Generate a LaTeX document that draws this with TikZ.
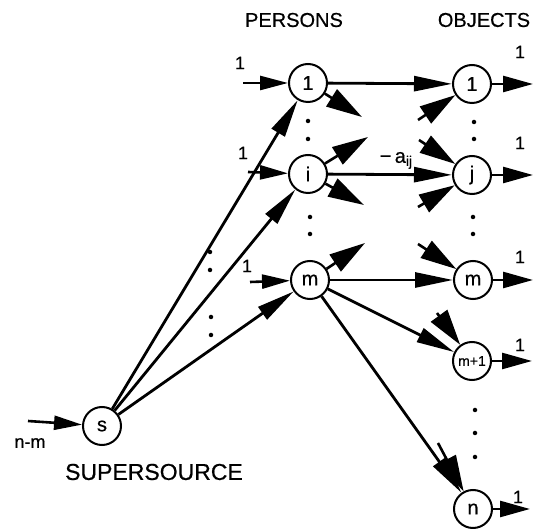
\documentclass[tikz,border=0pt]{standalone}
\usepackage{fontspec}
\setmainfont{Liberation Sans}[BoldFont=Liberation Sans,BoldFeatures={FakeBold=0.6}]
\usetikzlibrary{arrows.meta}
\begin{document}
\begin{tikzpicture}[x=1pt,y=-1pt,
  every node/.append style={font=\bfseries},
  vertex/.style={circle,draw,line width=2pt,minimum size=38pt,inner sep=0pt,
    font=\fontsize{20}{20}\selectfont\bfseries},
  edge/.style={line width=2.8pt,-{Triangle[length=38pt,width=15pt]}},
  feed/.style={line width=2.6pt,-{Triangle[length=28pt,width=14pt]}},
  drain/.style={line width=2.6pt,-{Triangle[length=30pt,width=16pt]}},
  stub/.style={line width=2.6pt,-{Triangle[length=36pt,width=20pt]}},
  flowlabel/.style={font=\fontsize{18}{18}\selectfont\bfseries},
  head/.style={font=\fontsize{20}{20}\selectfont\bfseries},
  pt/.style={circle,fill,inner sep=0pt,minimum size=4.5pt}]
\useasboundingbox (0,0) rectangle (550,529);

% column headings
\node[head] (hp) at (294,20) {PERSONS};
\node[head] (ho) at (484,20) {OBJECTS};
\node[font=\fontsize{23}{23}\selectfont\bfseries] (hs) at (154,472) {SUPERSOURCE};

% nodes
\node[vertex] (s)  at (102,426) {s};
\node[vertex] (P1) at (308,83)  {1};
\node[vertex] (Pi) at (308,174) {i};
\node[vertex] (Pm) at (310,280) {m};
\node[vertex] (O1) at (472,84)  {1};
\node[vertex] (Oj) at (472,175) {j};
\node[vertex] (Om) at (473,280) {m};
\node[vertex,font=\fontsize{14}{14}\selectfont\bfseries] (Om1) at (472,361) {m+1};
\node[vertex] (On) at (473,509) {n};

% supply into the supersource
\coordinate (sin) at (28,421);
\draw[feed] (sin) -- (s);
\node[flowlabel] (lnm) at (30,443) {n-m};

% supersource to persons
\draw[edge] (s) -- (P1);
\draw[edge] (s) -- (Pi);
\draw[edge] (s) -- (Pm);

% unit supplies into persons
\coordinate (a1) at (243,83);
\coordinate (ai) at (248,172);
\coordinate (am) at (250,282);
\draw[feed] (a1) -- (P1);
\draw[feed] (ai) -- (Pi);
\draw[feed] (am) -- (Pm);
\node[flowlabel] (l1) at (240,63) {1};
\node[flowlabel] (l2) at (243,153) {1};
\node[flowlabel] (l3) at (247,266) {1};

% assignment arcs
\draw[edge] (P1) -- (O1);
\draw[edge] (Pi) -- (Oj) node[pos=0.55,above=1pt,font=\fontsize{20}{20}\selectfont\bfseries] (aij) {−\,a\textsubscript{ij}};
\draw[edge] (Pm) -- (Om);
\draw[edge] (Pm) -- (Om1);
\draw[edge] (Pm) -- (On);

% partial arcs leaving persons
\coordinate (t1) at (362,117);
\coordinate (t2) at (368,137);
\coordinate (t3) at (364,205);
\coordinate (t4) at (365,243);
\draw[stub] (P1) -- (t1);
\draw[stub] (Pi) -- (t2);
\draw[stub] (Pi) -- (t3);
\draw[stub] (Pm) -- (t4);

% partial arcs entering objects
\coordinate (u1) at (418,120);
\coordinate (u2) at (419,140);
\coordinate (u3) at (418,207);
\coordinate (u4) at (418,244);
\coordinate (u5) at (437,313);
\coordinate (u6) at (438,443);
\draw[stub] (u1) -- (O1);
\draw[stub] (u2) -- (Oj);
\draw[stub] (u3) -- (Oj);
\draw[stub] (u4) -- (Om);
\draw[stub] (u5) -- (Om1);
\draw[stub] (u6) -- (On);

% unit demands out of objects
\coordinate (b1) at (533,84);
\coordinate (b2) at (533,175);
\coordinate (b3) at (533,280);
\coordinate (b4) at (532,361);
\coordinate (b5) at (530,509);
\draw[drain] (O1) -- (b1);
\draw[drain] (Oj) -- (b2);
\draw[drain] (Om) -- (b3);
\draw[drain] (Om1) -- (b4);
\draw[drain] (On) -- (b5);
\node[flowlabel] (r1) at (520,52)  {1};
\node[flowlabel] (r2) at (520,143) {1};
\node[flowlabel] (r3) at (520,257) {1};
\node[flowlabel] (r4) at (520,345) {1};
\node[flowlabel] (r5) at (518,497) {1};

% ellipsis dots
\foreach \x/\y [count=\k] in {308/121,308/139,310/217,310/234,
    474/122,474/139,473/217,473/234,475/410,475/433,475/457,
    210/252,210/270,211/317,211/335}
  \node[pt] (d\k) at (\x,\y) {};
\end{tikzpicture}
\end{document}
